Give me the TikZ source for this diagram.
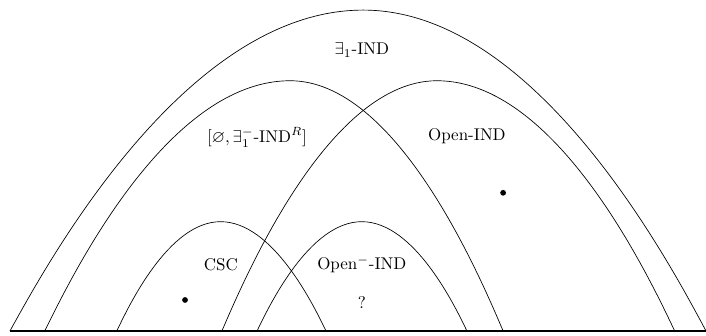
\documentclass[tikz,border=0pt]{standalone}
\usepackage{amsmath,amssymb}
\usepackage{tikz}
\usetikzlibrary{positioning}

\begin{document}
\begin{tikzpicture}[
  x=0.72cm, y=0.72cm,
  arch/.style = {draw, line width=0.4pt},
  base/.style = {draw, line width=1pt},
  lbl/.style  = {inner sep=1pt, align=center},
  pt/.style   = {circle, fill=black, inner sep=0pt, minimum size=3.4pt}
]
  \useasboundingbox (-0.287,-0.144) rectangle (20.0,9.51);

  % ground line
  \path[base] (0,0) -- (20,0);

  % the arches
  \path[arch] (0,0)    parabola bend (10.15,9.22) (20,0);
  \path[arch] (1,0)    parabola bend (8.05,7.19)  (14.17,0);
  \path[arch] (6.09,0) parabola bend (12.27,7.19) (19.1,0);
  \path[arch] (3.07,0) parabola bend (6.05,3.14)  (9.08,0);
  \path[arch] (7.1,0)  parabola bend (10.11,3.14) (13.13,0);

  \node[lbl] (exone)   at (10.11,8.07) {$\exists_1$-IND};
  \node[lbl] (emptyR)  at (7.10,5.57)  {$[\varnothing, \exists_1^-\text{-IND}^R]$};
  \node[lbl] (openind) at (13.13,5.60) {Open-IND};
  \node[lbl] (csc)     at (6.06,1.90)  {CSC};
  \node[lbl] (openm)   at (10.11,1.90) {Open$^-$-IND};
  \node[lbl, below=0.55 of openm] (unknown) {?};

  \node[pt] (dotcsc)  at (5.03,0.89) {};
  \node[pt] (dotopen) at (14.17,3.97) {};
\end{tikzpicture}
\end{document}
